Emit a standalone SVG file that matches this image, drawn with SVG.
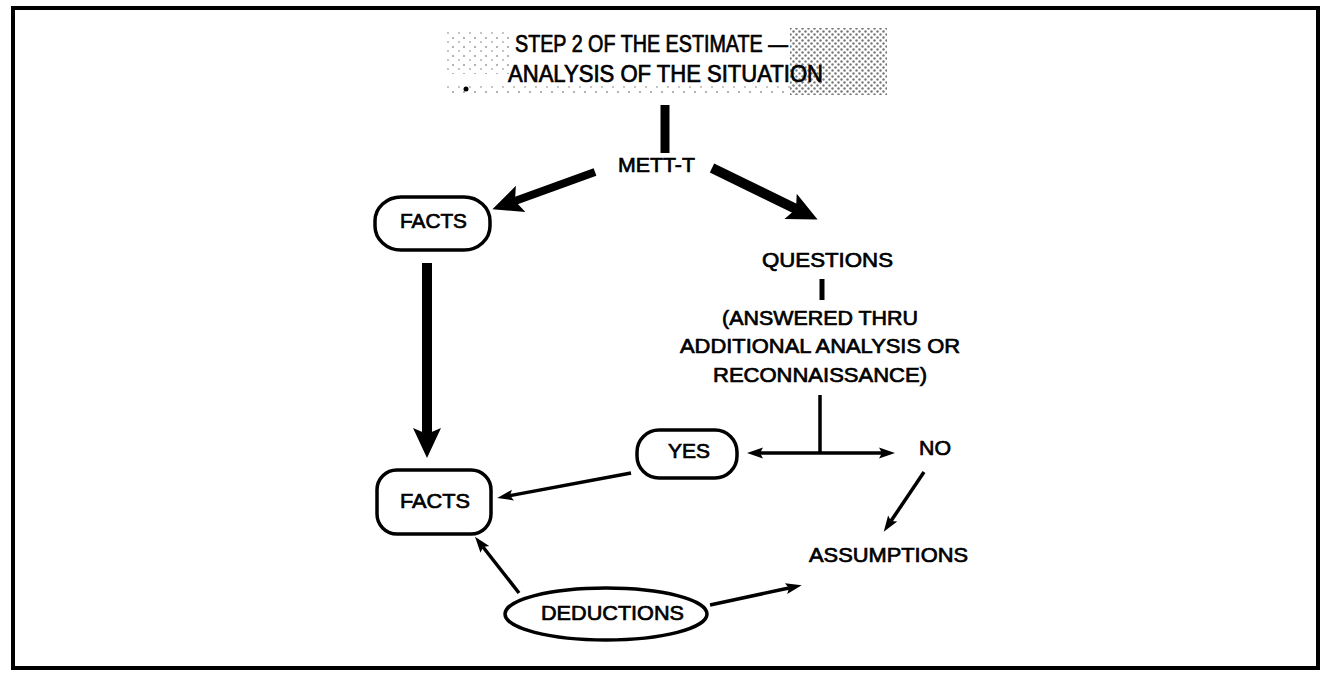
<svg xmlns="http://www.w3.org/2000/svg" width="1325" height="673" viewBox="0 0 1325 673">
<style>
.t{font-family:"Liberation Sans",Arial,sans-serif;font-size:21px;fill:#000;stroke:#000;stroke-width:0.7}
.title{font-family:"Liberation Sans",Arial,sans-serif;font-size:23px;fill:#000;stroke:#000;stroke-width:0.7}
.box{fill:#fff;stroke:#000;stroke-width:3.5}
.thick{stroke:#000;fill:none;stroke-linecap:butt}
.thin{stroke:#000;stroke-width:3.5;fill:none}
</style>
<defs>
<marker id="big" markerUnits="userSpaceOnUse" viewBox="-10 -16 40 32" refX="0" refY="0" markerWidth="40" markerHeight="32" orient="auto">
<path d="M-6,-14 L24,0 L-6,14 L0,0 Z" fill="#000"/>
</marker>
<marker id="small" markerUnits="userSpaceOnUse" viewBox="-6 -8 22 16" refX="0" refY="0" markerWidth="22" markerHeight="16" orient="auto-start-reverse">
<path d="M-3,-5.5 L13,0 L-3,5.5 L0,0 Z" fill="#000"/>
</marker>
<pattern id="dotsD" width="6" height="6" patternUnits="userSpaceOnUse">
<circle cx="1.5" cy="1.5" r="1.2" fill="#777"/>
<circle cx="4.5" cy="4.5" r="1.2" fill="#777"/>
</pattern>
<pattern id="dotsS" width="11" height="9" patternUnits="userSpaceOnUse">
<circle cx="2" cy="2" r="1" fill="#999"/>
<circle cx="8" cy="6" r="0.9" fill="#aaa"/>
</pattern>
</defs>
<rect x="13" y="8" width="1305" height="660" fill="#fff" stroke="#000" stroke-width="4"/>
<g id="title">
<rect x="443" y="30" width="70" height="44" fill="url(#dotsS)"/>
<rect x="790" y="28" width="97" height="67" fill="url(#dotsD)"/>
<rect x="443" y="85" width="350" height="10" fill="url(#dotsS)"/>
<circle cx="466" cy="89" r="2.5" fill="#000"/>
<text class="title" x="515" y="52" textLength="273" lengthAdjust="spacingAndGlyphs">STEP 2 OF THE ESTIMATE —</text>
<text class="title" x="508" y="82" textLength="315" lengthAdjust="spacingAndGlyphs">ANALYSIS OF THE SITUATION</text>
</g>
<g id="connectors">
<line class="thick" x1="665" y1="105" x2="665" y2="153" stroke-width="9"/>
<line class="thick" x1="595" y1="172" x2="515" y2="201" stroke-width="8" marker-end="url(#big)"/>
<line class="thick" x1="712" y1="168" x2="796" y2="209" stroke-width="10" marker-end="url(#big)"/>
<line class="thick" x1="427" y1="263" x2="427" y2="434" stroke-width="10" marker-end="url(#big)"/>
<line class="thick" x1="822" y1="279" x2="822" y2="300" stroke-width="5"/>
<line class="thin" x1="820" y1="395" x2="820" y2="453" stroke-width="4"/>
<line class="thin" x1="760" y1="453" x2="882" y2="453" marker-start="url(#small)" marker-end="url(#small)"/>
<line class="thin" x1="631" y1="473" x2="510" y2="495.6" marker-end="url(#small)"/>
<line class="thin" x1="924" y1="472" x2="891" y2="521" marker-end="url(#small)"/>
<line class="thin" x1="519" y1="593" x2="483" y2="547" marker-end="url(#small)"/>
<line class="thin" x1="710" y1="605" x2="789" y2="588" marker-end="url(#small)"/>
</g>
<g id="mett-t">
<text class="t" x="618" y="172" textLength="77" lengthAdjust="spacingAndGlyphs">METT-T</text>
</g>
<g id="facts-top">
<rect class="box" x="375" y="197" width="115" height="53" rx="26" ry="24"/>
<text class="t" x="400" y="228" textLength="67" lengthAdjust="spacingAndGlyphs">FACTS</text>
</g>
<g id="questions">
<text class="t" x="762" y="267" textLength="131" lengthAdjust="spacingAndGlyphs">QUESTIONS</text>
</g>
<g id="answered">
<text class="t" x="722" y="325" textLength="196" lengthAdjust="spacingAndGlyphs">(ANSWERED THRU</text>
<text class="t" x="680" y="353" textLength="280" lengthAdjust="spacingAndGlyphs">ADDITIONAL ANALYSIS OR</text>
<text class="t" x="713" y="382" textLength="214" lengthAdjust="spacingAndGlyphs">RECONNAISSANCE)</text>
</g>
<g id="yes">
<rect class="box" x="637" y="430" width="100" height="48" rx="22" ry="22"/>
<text class="t" x="668" y="458" textLength="42" lengthAdjust="spacingAndGlyphs">YES</text>
</g>
<g id="no">
<text class="t" x="919" y="455" textLength="32" lengthAdjust="spacingAndGlyphs">NO</text>
</g>
<g id="facts-bottom">
<rect class="box" x="377" y="470" width="114" height="64" rx="20" ry="20"/>
<text class="t" x="400" y="508" textLength="70" lengthAdjust="spacingAndGlyphs">FACTS</text>
</g>
<g id="assumptions">
<text class="t" x="809" y="562" textLength="159" lengthAdjust="spacingAndGlyphs">ASSUMPTIONS</text>
</g>
<g id="deductions">
<ellipse class="box" cx="606" cy="614" rx="101" ry="26"/>
<text class="t" x="541" y="620" textLength="143" lengthAdjust="spacingAndGlyphs">DEDUCTIONS</text>
</g>
</svg>
